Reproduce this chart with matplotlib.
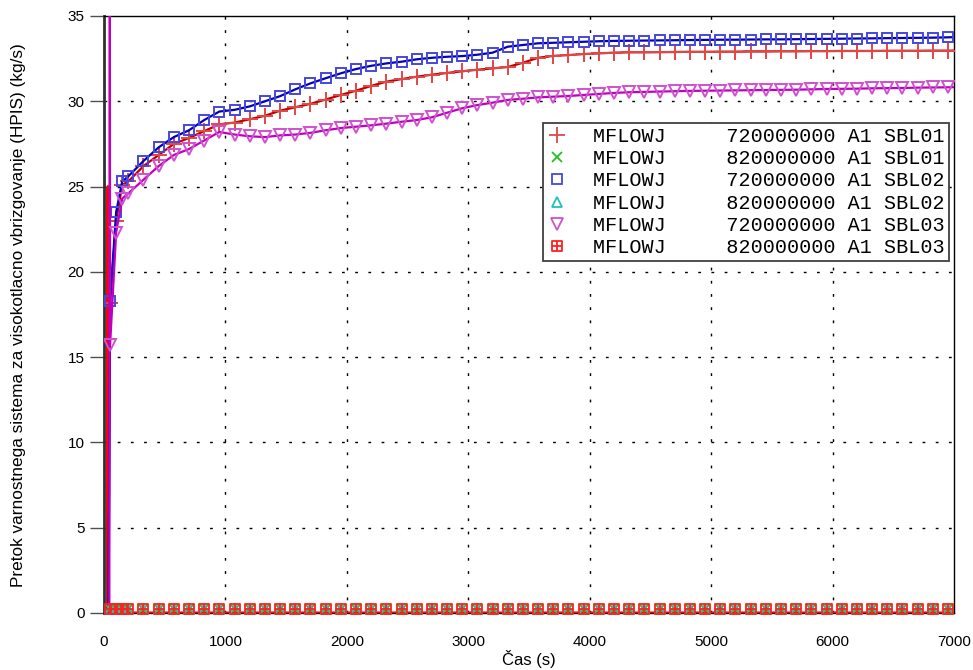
#!/usr/bin/env python3
import matplotlib

matplotlib.use("Agg")
from matplotlib import pyplot as plt
from matplotlib import font_manager
from matplotlib.lines import Line2D
from matplotlib.path import Path
from matplotlib.transforms import offset_copy

# sample times (s) shared by all series after the start-up transient
TIME = [
    50, 100, 150, 200, 325, 450, 575, 700, 825, 950,
    1075, 1200, 1325, 1450, 1575, 1700, 1825, 1950, 2075, 2200,
    2325, 2450, 2575, 2700, 2825, 2950, 3075, 3200, 3325, 3450,
    3575, 3700, 3825, 3950, 4075, 4200, 4325, 4450, 4575, 4700,
    4825, 4950, 5075, 5200, 5325, 5450, 5575, 5700, 5825, 5950,
    6075, 6200, 6325, 6450, 6575, 6700, 6825, 6950, 7000,
]

# start-up transient (before the first sample)
SBL01_720_T0 = [0, 38]
SBL01_720_V0 = [0.0, 0.0]
SBL02_720_T0 = [0, 36]
SBL02_720_V0 = [0.0, 0.0]
SBL03_720_T0 = [0, 44, 48]
SBL03_720_V0 = [0.0, 0.0, 38.0]
SBL03_820_T0 = [0, 30, 33, 36]
SBL03_820_V0 = [0.0, 0.0, 25.0, 0.0]

SBL01_720 = [
    18.2, 23.0, 25.1, 25.3, 26.2, 26.85, 27.5, 27.85, 28.25, 28.65,
    28.75, 28.95, 29.15, 29.45, 29.65, 29.85, 30.1, 30.37, 30.62, 30.9,
    31.15, 31.3, 31.44, 31.56, 31.66, 31.76, 31.85, 31.93, 32.01, 32.26,
    32.55, 32.66, 32.71, 32.77, 32.81, 32.85, 32.87, 32.87, 32.88, 32.89,
    32.9, 32.9, 32.91, 32.91, 32.92, 32.92, 32.93, 32.93, 32.94, 32.94,
    32.95, 32.95, 32.95, 32.96, 32.96, 32.96, 32.97, 32.97, 32.97,
]
SBL02_720 = [
    18.3, 23.5, 25.3, 25.6, 26.5, 27.3, 27.9, 28.3, 28.9, 29.4,
    29.5, 29.7, 30.0, 30.3, 30.7, 31.05, 31.35, 31.64, 31.89, 32.08,
    32.22, 32.32, 32.46, 32.55, 32.61, 32.65, 32.73, 32.85, 33.2, 33.3,
    33.4, 33.43, 33.46, 33.49, 33.52, 33.54, 33.55, 33.56, 33.57, 33.58,
    33.59, 33.6, 33.61, 33.61, 33.62, 33.63, 33.63, 33.64, 33.65, 33.66,
    33.67, 33.68, 33.69, 33.7, 33.71, 33.72, 33.73, 33.75, 33.76,
]
SBL03_720 = [
    15.7, 22.3, 24.3, 24.6, 25.4, 26.2, 26.85, 27.2, 27.7, 28.2,
    28.05, 27.95, 27.9, 28.0, 28.05, 28.15, 28.3, 28.43, 28.51, 28.59,
    28.69, 28.8, 28.9, 29.06, 29.33, 29.59, 29.78, 29.92, 30.08, 30.15,
    30.23, 30.27, 30.31, 30.37, 30.43, 30.49, 30.53, 30.55, 30.57, 30.59,
    30.61, 30.62, 30.63, 30.64, 30.65, 30.66, 30.67, 30.68, 30.7, 30.72,
    30.73, 30.74, 30.76, 30.77, 30.78, 30.8, 30.81, 30.82, 30.83,
]
# the 820000000 signals stay at zero for the whole run
SBL01_820 = [0.0] * len(TIME)
SBL02_820 = [0.0] * len(TIME)
SBL03_820 = [0.0] * len(TIME)

LABELS = [
    "MFLOWJ     720000000 A1 SBL01",
    "MFLOWJ     820000000 A1 SBL01",
    "MFLOWJ     720000000 A1 SBL02",
    "MFLOWJ     820000000 A1 SBL02",
    "MFLOWJ     720000000 A1 SBL03",
    "MFLOWJ     820000000 A1 SBL03",
]
YLABEL = "Pretok varnostnega sistema za visokotlacno vbrizgovanje (HPIS) (kg/s)"

# square with a cross inside
BOXPLUS = Path(
    [(-1, -1), (1, -1), (1, 1), (-1, 1), (-1, -1), (0, -1), (0, 1), (-1, 0), (1, 0)],
    [Path.MOVETO, Path.LINETO, Path.LINETO, Path.LINETO, Path.CLOSEPOLY,
     Path.MOVETO, Path.LINETO, Path.MOVETO, Path.LINETO],
)

# (line colour, marker colour, marker, marker size)
STYLES = [
    ("#c00000", "#e04848", "+", 11),
    ("#00c000", "#20c020", "x", 7.5),
    ("#0000c0", "#4848dc", "s", 7.5),
    ("#00b8b8", "#20c0c0", "^", 7.5),
    ("#c000c0", "#d050d0", "v", 8),
    ("#ff0000", "#ff2020", BOXPLUS, 7),
]

names = {f.name for f in font_manager.fontManager.ttflist}
SANS = "Liberation Sans" if "Liberation Sans" in names else "DejaVu Sans"
NARROW = "Liberation Sans Narrow" if "Liberation Sans Narrow" in names else SANS
MONO = "Liberation Mono" if "Liberation Mono" in names else "DejaVu Sans Mono"
TICK_SIZE = 12.5 if NARROW != SANS else 11


def main():
    plt.rcParams["font.family"] = SANS
    fig = plt.figure(figsize=(9.73, 6.70), dpi=100)
    ax = fig.add_axes((104 / 973, 57 / 670, 850 / 973, 597 / 670))

    marks = list(range(len(TIME) - 1))
    upper = [
        (0, SBL01_720_T0, SBL01_720_V0, SBL01_720),
        (2, SBL02_720_T0, SBL02_720_V0, SBL02_720),
        (4, SBL03_720_T0, SBL03_720_V0, SBL03_720),
    ]
    zero = [
        (1, [0], [0.0], SBL01_820),
        (3, [0], [0.0], SBL02_820),
        (5, SBL03_820_T0, SBL03_820_V0, SBL03_820),
    ]
    # markers of the zero signals sit just above the axis line
    lifted = offset_copy(ax.transData, fig=fig, x=0, y=4, units="dots")
    for i, t0, v0, vals in zero:
        line, mcol, mk, ms = STYLES[i]
        ax.plot(t0 + TIME, v0 + vals, color=line, lw=2.2 if i == 5 else 1.5,
                zorder=3)
        ax.plot(TIME, vals, ls="none", marker=mk, ms=ms, mec=mcol, mfc="none",
                mew=1.3, markevery=marks, transform=lifted, zorder=4,
                clip_on=False)
    for i, t0, v0, vals in upper:
        line, mcol, mk, ms = STYLES[i]
        off = len(t0)
        ax.plot(t0 + TIME, v0 + vals, color=line, lw=1.6, marker=mk, ms=ms,
                mec=mcol, mfc="none", mew=1.4,
                markevery=[off + k for k in marks], zorder=3)

    ax.set_xlim(0, 7000)
    ax.set_ylim(0, 35)
    ax.set_xticks(range(0, 7001, 1000))
    ax.set_yticks(range(0, 36, 5))
    ax.tick_params(axis="x", length=0, pad=16)
    ax.tick_params(axis="y", length=10, width=1, color="#505050", pad=4)
    for lab in ax.get_xticklabels() + ax.get_yticklabels():
        lab.set_family(NARROW)
        lab.set_fontsize(TICK_SIZE)

    dash = (0, (2, 7.5))
    for x in range(1000, 7000, 1000):
        ax.axvline(x, color="black", lw=1, ls=dash, zorder=1)
    for y in range(5, 35, 5):
        ax.axhline(y, color="black", lw=1, ls=dash, zorder=1)

    ax.spines["left"].set_color("#303030")
    ax.spines["left"].set_linewidth(2)
    for side in ("top", "right", "bottom"):
        ax.spines[side].set_color("black")
        ax.spines[side].set_linewidth(1)

    ax.set_xlabel("Čas (s)", fontsize=12)
    ax.xaxis.set_label_coords(0.5, -0.062)
    ylab = ax.set_ylabel(YLABEL, fontsize=12, family=NARROW)
    ax.yaxis.set_label_coords(-0.0918, 0.499)
    # stretch the label to the length it has in the reference (about 545 px)
    fig.canvas.draw()
    h = ylab.get_window_extent().height
    ylab.set_fontsize(12 * 545 / h)

    handles = [
        Line2D([], [], ls="none", marker=mk, ms=ms, mec=mcol, mfc="none", mew=1.3)
        for _, mcol, mk, ms in STYLES
    ]
    leg = ax.legend(
        handles, LABELS, loc="upper right",
        bbox_to_anchor=(949 / 973, 547 / 670), bbox_transform=fig.transFigure,
        prop={"family": MONO, "size": 14.5}, frameon=True, fancybox=False,
        edgecolor="#404040", framealpha=1, borderaxespad=0, borderpad=0.2,
        handlelength=1.0, handletextpad=1.3, labelspacing=0.16,
    )
    leg.get_frame().set_linewidth(1.3)

    fig.savefig("out.png", dpi=100)


if __name__ == "__main__":
    main()
